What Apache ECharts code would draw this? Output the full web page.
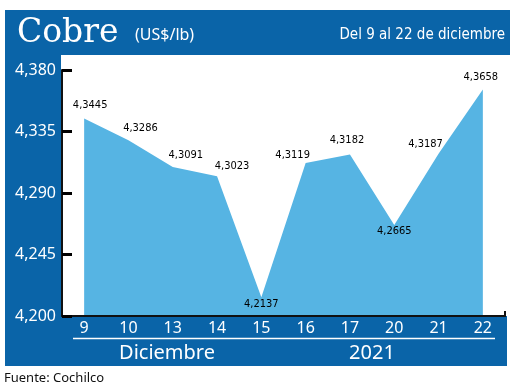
<!DOCTYPE html>
<html><head><meta charset="utf-8">
<script src="https://cdn.jsdelivr.net/npm/echarts@6/dist/echarts.min.js"></script>
<style>html,body{margin:0;padding:0;background:#fff}#c{width:520px;height:388px}</style>
</head><body><div id="c"></div>
<script>
const categories = ['9','10','13','14','15','16','17','20','21','22'];
const values = [4.3445, 4.3286, 4.3091, 4.3023, 4.2137, 4.3119, 4.3182, 4.2665, 4.3187, 4.3658];
const yMin = 4.2, yMax = 4.38, yStep = 0.045;
const monthLabel = 'Diciembre', yearLabel = '2021';
const titleMain = 'Cobre', titleUnit = '(US$/lb)', titleRange = 'Del 9 al 22 de diciembre', sourceText = 'Fuente: Cochilco';

// label placement styles (not data)
const labelOffsets = [[6,-1],[12,0],[13,0],[15,2],[0,-5],[-13,4],[-3,-2],[0,-6],[-13,2],[-2,0]];
const labelPos = ['top','top','top','top','bottom','top','top','bottom','top','top'];

const BLUE = '#0a64a8', LIGHT = '#56b4e3';
const fmt = v => v.toFixed(4).replace('.', ',');
const COND = '"DejaVu Sans Condensed", "DejaVu Sans"';

const chart = echarts.init(document.getElementById('c'), null, {renderer:'canvas'});
chart.setOption({
  backgroundColor: '#ffffff',
  animation: false,
  grid: {left: 62, right: 15, top: 70, bottom: 72, containLabel: false},
  graphic: [
    {type:'rect', z:-10, shape:{x:5, y:10, width:505, height:45}, style:{fill:BLUE}},
    {type:'rect', z:-10, shape:{x:5, y:10, width:56, height:356}, style:{fill:BLUE}},
    {type:'rect', z:-10, shape:{x:5, y:316, width:502, height:50}, style:{fill:BLUE}},
    {type:'line', z:5, shape:{x1:73, y1:338.5, x2:495, y2:338.5}, style:{stroke:'#fff', lineWidth:1.5}},
    {type:'line', z:5, shape:{x1:505, y1:317, x2:505, y2:311}, style:{stroke:'#111', lineWidth:2}},
    {type:'text', z:5, x:17, y:33, style:{text:titleMain, fill:'#fff', font:'33px "DejaVu Serif"', textVerticalAlign:'middle'}},
    {type:'text', z:5, x:135, y:35, style:{text:titleUnit, fill:'#fff', font:'16px "Noto Sans"', textVerticalAlign:'middle'}},
    {type:'text', z:5, x:505, y:35, style:{text:titleRange, fill:'#fff', font:'15px ' + COND, textAlign:'right', textVerticalAlign:'middle'}},
    {type:'text', z:5, x:167, y:353, style:{text:monthLabel, fill:'#fff', font:'20px "Noto Sans"', textAlign:'center', textVerticalAlign:'middle'}},
    {type:'text', z:5, x:372, y:353, style:{text:yearLabel, fill:'#fff', font:'20px "Noto Sans"', textAlign:'center', textVerticalAlign:'middle'}},
    {type:'text', z:5, x:4, y:378, style:{text:sourceText, fill:'#111', font:'13px "Noto Sans"', textVerticalAlign:'middle'}}
  ],
  xAxis: {
    type:'category', data: categories, boundaryGap: true,
    axisLine:{show:true, lineStyle:{color:'#111', width:2}},
    axisTick:{show:false},
    axisLabel:{color:'#fff', fontSize:16, fontFamily:'Noto Sans', margin:4},
    splitLine:{show:false}, z:5
  },
  yAxis: {
    type:'value', min:yMin, max:yMax, interval:yStep,
    axisLine:{show:true, lineStyle:{color:'#111', width:2}},
    axisTick:{show:true, inside:true, length:10, lineStyle:{color:'#000', width:3}},
    axisLabel:{color:'#fff', fontSize:16, fontFamily:'Noto Sans', margin:6,
      formatter: v => v.toFixed(3).replace('.', ',')},
    splitLine:{show:false}, z:5
  },
  series: [{
    type:'line', data: values.map((v,i)=>({value:v, label:{position:labelPos[i], offset:labelOffsets[i]}})),
    symbol:'circle', symbolSize:1, showSymbol:true, itemStyle:{color:'rgba(0,0,0,0)'},
    lineStyle:{width:0}, areaStyle:{color:LIGHT, opacity:1, origin:'start'},
    label:{show:true, color:'#000', fontSize:11, fontFamily:COND, distance:6,
      formatter: p => fmt(p.value)},
    z:2
  }]
});
</script></body></html>
